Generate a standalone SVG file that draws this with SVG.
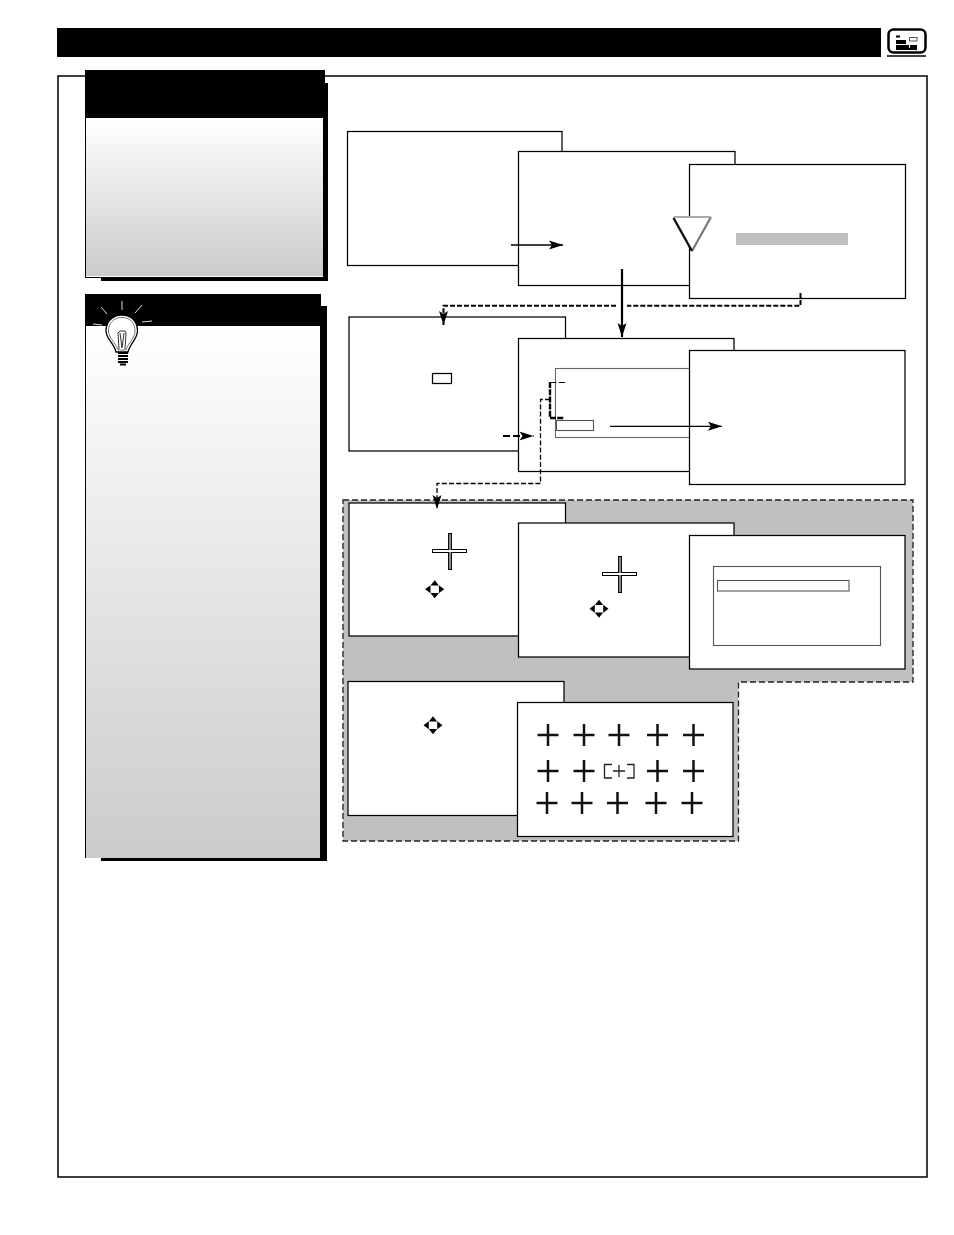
<svg xmlns="http://www.w3.org/2000/svg" width="954" height="1235" viewBox="0 0 954 1235">
<style>
.s{fill:#fff;stroke:#000;stroke-width:1.250}
.p{fill:#fff;stroke:#555;stroke-width:1.100}
.c{fill:none;stroke:#000;stroke-linecap:butt}
.x{stroke:#111;stroke-width:2.500;fill:none}
.m{fill:#000}
</style>
<defs>
<linearGradient id="g1" x1="0" y1="0" x2="0" y2="1"><stop offset="0" stop-color="#fff"/><stop offset="1" stop-color="#cbcbcb"/></linearGradient>
<linearGradient id="g2" x1="0" y1="0" x2="0" y2="1"><stop offset="0" stop-color="#fff"/><stop offset="1" stop-color="#cbcbcb"/></linearGradient>
<marker id="a" markerUnits="userSpaceOnUse" markerWidth="16" markerHeight="11" refX="14" refY="5.500" orient="auto"><path d="M0 1 L14 5.500 L0 10 L3 5.500Z" fill="#000"/></marker>
<g id="pad"><path d="M0-9 L4.200-3.800 H-4.200ZM0 9 L4.200 3.800 H-4.200ZM-9.500 0 L-4.200 -4 V4ZM9.500 0 L4.200 -4 V4Z"/></g>
<g id="bigx"><path d="M0-18 V19 M-18 0 H17" stroke="#000" stroke-width="4" fill="none"/><path d="M0-17 V18" stroke="#888" stroke-width="2.200" fill="none"/><path d="M-17 0 H16" stroke="#fff" stroke-width="2" fill="none"/></g>
<path id="cr" d="M-10.500 0 H10.500 M0-11 V11"/>
</defs>

<g id="header">
<rect x="57" y="28" width="824" height="29" fill="#000"/>
<rect x="888.500" y="29.500" width="37" height="23" rx="5" fill="#fff" stroke="#000" stroke-width="2.500"/>
<path d="M887 56 H926" stroke="#000" stroke-width="1.500"/>
<path d="M896 35.500 H900 V37.500 H896Z M896 40 H906 V44 H896Z M896 45 H909 V50 H896Z M909 48 H917 V50 H909Z M910 45 H917 V48 H910Z" fill="#000"/>
<rect x="909.500" y="37.500" width="7.500" height="3.500" fill="#fff" stroke="#555"/>
</g>
<rect id="frame" x="58" y="76" width="869" height="1101" fill="none" stroke="#000" stroke-width="1.500"/>

<g id="sidebar-top">
<rect x="101" y="83" width="227" height="198" fill="#000"/>
<rect x="85" y="118" width="238" height="160" fill="#000"/>
<rect x="86" y="118" width="237" height="159" fill="#fff"/>
<rect x="86" y="118" width="237" height="158" fill="url(#g1)"/>
<rect x="85" y="70" width="240" height="48" fill="#000"/>
</g>
<g id="sidebar-tip">
<rect x="101" y="306" width="226" height="555" fill="#000"/>
<rect x="85" y="326" width="235" height="532" fill="#000"/>
<rect x="86" y="326" width="234" height="532" fill="url(#g2)"/>
<rect x="85" y="294" width="236" height="32" fill="#000"/>
<g id="bulb">
<path d="M122 301 V310 M101 307 L107 314 M142 305 L135 313 M93 324 L102 325 M142 322 L152 321" stroke="#ddd" stroke-width="1"/>
<path d="M122 315 C111 315 106 323 106 331 C106 339 114 343 116 352 H128 C130 343 137.500 339 137.500 331 C137.500 323 133 315 122 315Z" fill="#fff" stroke="#000" stroke-width="1.300"/>
<path d="M122 317.500 C113 317.500 108.500 324 108.500 331 C108.500 338 116 343 118 350 H126 C128 343 135 338 135 331 C135 324 131 317.500 122 317.500Z" fill="#fff" stroke="#666" stroke-width="0.900"/>
<path d="M119 349 L118 333 L120 331 H125 L126 333 L125 349 M120 333 L122 348 L124 333" fill="none" stroke="#333" stroke-width="1"/>
<path d="M118 353 H128 M118 356 H128 M118 359 H128 M118 362 H128 M120 364.500 H126" stroke="#000" stroke-width="2" fill="none"/>
</g>
</g>

<path id="shade" d="M343 500 H913 V682 H738.500 V841 H343Z" fill="#c0c0c0" stroke="#222" stroke-width="1.300" stroke-dasharray="6 3"/>

<g id="screen-a"><rect class="s" x="347.500" y="131.500" width="214.500" height="134"/></g>
<g id="screen-b"><rect class="s" x="518.500" y="151.500" width="216.500" height="134"/></g>
<g id="screen-c"><rect class="s" x="689.500" y="164.500" width="216" height="134"/>
<rect x="736" y="233" width="112" height="12" fill="#c0c0c0"/>
<path d="M673.500 217 H711 L692 251Z" fill="#fff"/>
<path d="M711 217 L692 251" stroke="#777" stroke-width="2.200" fill="none"/>
<path d="M673.500 217 H711" stroke="#aaa" stroke-width="2" fill="none"/>
<path d="M673.500 218 L692 251" stroke="#111" stroke-width="2.400" fill="none"/>
</g>
<g id="screen-d"><rect class="s" x="349" y="317" width="216.500" height="134"/><rect class="s" x="432.500" y="373.500" width="19" height="10"/></g>
<g id="screen-e"><rect class="s" x="518.500" y="338.500" width="215.500" height="133"/>
<rect x="555.500" y="368.500" width="135" height="69" fill="#fff" stroke="#666" stroke-width="1.100"/>
<rect class="p" x="556.500" y="420.500" width="37" height="10"/></g>
<g id="screen-f"><rect class="s" x="689.500" y="350.500" width="215.500" height="134"/></g>
<g id="screen-g"><rect class="s" x="349" y="503" width="216.500" height="133"/><use href="#bigx" x="450" y="551"/><use href="#pad" x="434.700" y="589.300"/></g>
<g id="screen-h"><rect class="s" x="518.500" y="523" width="215.500" height="134"/><use href="#bigx" x="620" y="574"/><use href="#pad" x="599" y="608.700"/></g>
<g id="screen-i"><rect class="s" x="689.500" y="535.500" width="215.500" height="133.500"/>
<rect class="p" x="713.500" y="566.500" width="167" height="79"/>
<rect class="p" x="717.500" y="580.500" width="131.500" height="10.500"/></g>
<g id="screen-j"><rect class="s" x="348" y="681.500" width="216" height="134"/><use href="#pad" x="433" y="725.300"/></g>
<g id="screen-k"><rect class="s" x="517.500" y="702.500" width="215.500" height="134"/>
<g class="x">
<use href="#cr" x="548" y="735"/><use href="#cr" x="584" y="735"/><use href="#cr" x="619" y="735"/><use href="#cr" x="657.500" y="735"/><use href="#cr" x="693.500" y="735"/>
<use href="#cr" x="548" y="771"/><use href="#cr" x="584" y="771"/><use href="#cr" x="657.500" y="771"/><use href="#cr" x="693.500" y="771"/>
<use href="#cr" x="547" y="803"/><use href="#cr" x="582" y="803"/><use href="#cr" x="617.500" y="803"/><use href="#cr" x="656" y="803"/><use href="#cr" x="692" y="803"/>
</g>
<path d="M612 764.500 H604.500 V778 H612 M627 764.500 H634 V778 H627 M613 771 H625 M619 765 V777" fill="none" stroke="#222" stroke-width="1.300"/>
</g>

<g id="connectors">
<path class="c" d="M511 245 H563" stroke-width="1.300" marker-end="url(#a)"/>
<path class="c" d="M622 269 V337" stroke-width="2.200" marker-end="url(#a)"/>
<path class="c" d="M800.500 293 V305.800 H627" stroke-width="2" stroke-dasharray="5 2"/>
<path class="c" d="M616 305.800 H443.500 V325" stroke-width="2" stroke-dasharray="5 2" marker-end="url(#a)"/>
<path class="c" d="M503 436 H533.500" stroke-width="2.200" stroke-dasharray="7 3" marker-end="url(#a)"/>
<path class="c" d="M610 426.300 H722" stroke-width="1.300" marker-end="url(#a)"/>
<path class="c" d="M565 382.500 H550" stroke-width="1.200" stroke-dasharray="6 2.500"/>
<path class="c" d="M550 382 V418 H564" stroke-width="2.400" stroke-dasharray="6 1.200"/>
<path class="c" d="M550 399.500 H540.500 V483.500 H437 V509" stroke-width="1.300" stroke-dasharray="5 2.200" marker-end="url(#a)"/>
</g>
</svg>
